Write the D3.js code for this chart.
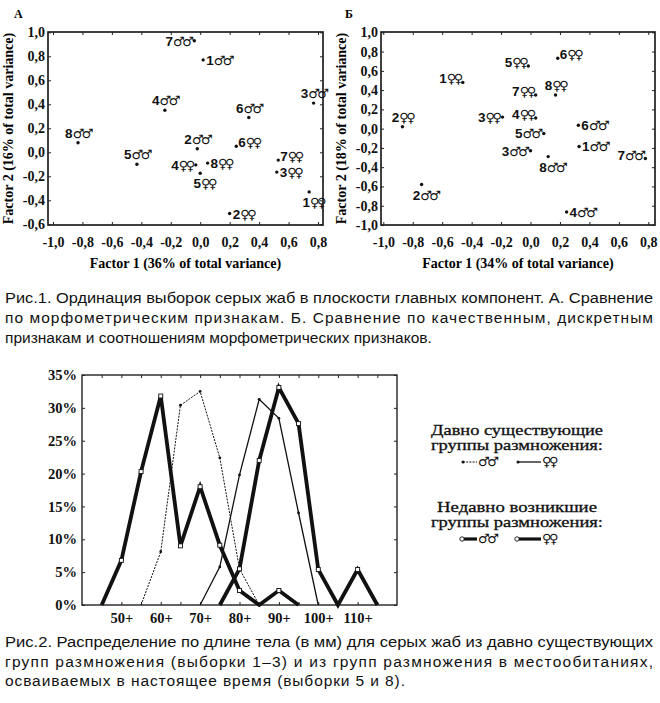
<!DOCTYPE html>
<html>
<head>
<meta charset="utf-8">
<script src="https://cdn.jsdelivr.net/npm/d3@7"></script>
<style>
  body { margin: 0; background: #fff; }
  svg { display: block; }
</style>
</head>
<body>
<svg id="fig" width="660" height="703"></svg>
<script>
// ---- data: PCA panel A (morphometric) ----
const namesA = ["7♂♂", "1♂♂", "4♂♂", "6♂♂", "3♂♂", "8♂♂", "5♂♂", "2♂♂",
                "6♀♀", "4♀♀", "8♀♀", "5♀♀", "7♀♀", "3♀♀", "1♀♀", "2♀♀"];
const f1A = [-0.04, 0.02, -0.24, 0.33, 0.77, -0.83, -0.43, -0.02,
             0.245, -0.03, 0.05, 0.0, 0.53, 0.52, 0.74, 0.20];
const f2A = [0.93, 0.77, 0.35, 0.29, 0.41, 0.08, -0.10, 0.03,
             0.05, -0.105, -0.09, -0.175, -0.065, -0.165, -0.33, -0.51];
const placeA = ["l", "r", "t", "t", "t", "t", "t", "t",
                "tr", "l", "r", "b", "tr", "r", "b", "r"];

// ---- data: PCA panel B (qualitative traits) ----
const namesB = ["2♀♀", "1♀♀", "5♀♀", "6♀♀", "7♀♀", "8♀♀", "3♀♀", "4♀♀",
                "5♂♂", "6♂♂", "1♂♂", "3♂♂", "8♂♂", "7♂♂", "2♂♂", "4♂♂"];
const f1B = [-0.87, -0.46, -0.015, 0.185, 0.035, 0.17, -0.19, 0.035,
             0.09, 0.325, 0.33, 0.0, 0.12, 0.78, -0.74, 0.245];
const f2B = [0.02, 0.48, 0.65, 0.73, 0.35, 0.35, 0.12, 0.11,
             -0.05, 0.035, -0.185, -0.23, -0.29, -0.31, -0.58, -0.865];
const placeB = ["t", "tl", "tl", "tr", "tl", "t", "l", "tl",
                "l", "r", "r", "l", "b", "tl", "b", "r"];

const pcaXTicks = [-1.0, -0.8, -0.6, -0.4, -0.2, 0.0, 0.2, 0.4, 0.6, 0.8];
const pcaYTicksA = [-0.6, -0.4, -0.2, 0.0, 0.2, 0.4, 0.6, 0.8, 1.0];
const pcaYTicksB = [-1.0, -0.8, -0.6, -0.4, -0.2, 0.0, 0.2, 0.4, 0.6, 0.8, 1.0];

// ---- data: body length distribution (%), fig. 2 ----
const binsOldMales = [55, 60, 65, 70, 75, 80, 85];
const pctOldMales = [0, 8.1, 30.4, 32.5, 22.4, 5.5, 0];
const binsOldFemales = [70, 75, 80, 85, 90, 95, 100];
const pctOldFemales = [0, 5.8, 19.8, 31.3, 28.4, 14, 0];
const binsNewMales = [45, 50, 55, 60, 65, 70, 75, 80, 85, 90, 95];
const pctNewMales = [0, 6.8, 20.3, 31.8, 9, 18, 9.1, 2.2, 0, 2.2, 0];
const binsNewFemales = [75, 80, 85, 90, 95, 100, 105, 110, 115];
const pctNewFemales = [0, 5.5, 22, 33.1, 27.6, 5.4, 0, 5.4, 0];
const lenTicks = [50, 60, 70, 80, 90, 100, 110];
const pctTicks = [0, 5, 10, 15, 20, 25, 30, 35];

const caption1 = [
  "Рис.1. Ординация выборок серых жаб в плоскости главных компонент.  А. Сравнение",
  "по морфометрическим признакам. Б. Сравнение по качественным, дискретным",
  "признакам и соотношениям морфометрических признаков."
];
const caption2 = [
  "Рис.2. Распределение по длине тела (в мм) для серых жаб из давно существующих",
  "групп размножения (выборки 1–3) и из групп размножения в местообитаниях,",
  "осваиваемых в настоящее время  (выборки 5 и 8)."
];

const svg = d3.select("#fig");
svg.append("rect").attr("width", 660).attr("height", 703).attr("fill", "#fff");

const serif = "'Liberation Serif', 'DejaVu Serif', serif";
const sans = "'Liberation Sans', Arial, sans-serif";
const comma = d => d.toFixed(1).replace(".", ",");

// draws one PCA panel
function drawPca(opt) {
  const g = svg.append("g");
  const x = d3.scaleLinear().domain([-1.0, 0.8]).range(opt.xRange);
  const y = d3.scaleLinear().domain(opt.yDomain).range(opt.yRange);

  // box
  g.append("rect")
    .attr("x", opt.box[0]).attr("y", opt.box[1])
    .attr("width", opt.box[2] - opt.box[0]).attr("height", opt.box[3] - opt.box[1])
    .attr("fill", "none").attr("stroke", "#111").attr("stroke-width", 1.6);

  const xAxis = g.append("g").attr("transform", `translate(0,${opt.box[3]})`)
    .call(d3.axisBottom(x).tickValues(opt.xTicks).tickFormat(comma).tickSize(-3).tickPadding(12));
  const xTop = g.append("g").attr("transform", `translate(0,${opt.box[1]})`)
    .call(d3.axisTop(x).tickValues(opt.xTicks).tickFormat("").tickSize(-3));
  const yAxis = g.append("g").attr("transform", `translate(${opt.box[0]},0)`)
    .call(d3.axisLeft(y).tickValues(opt.yTicks).tickFormat(comma).tickSize(-3).tickPadding(3));
  const yRight = g.append("g").attr("transform", `translate(${opt.box[2]},0)`)
    .call(d3.axisRight(y).tickValues(opt.yTicks).tickFormat("").tickSize(-3));
  [xAxis, xTop, yAxis, yRight].forEach(a => {
    a.select(".domain").remove();
    a.selectAll("line").attr("stroke", "#222");
    a.selectAll("text").attr("font-family", serif).attr("font-weight", "bold")
      .attr("font-size", 14).attr("fill", "#111");
  });

  // titles
  g.append("text").attr("x", (opt.box[0] + opt.box[2]) / 2).attr("y", 268)
    .attr("text-anchor", "middle").attr("font-family", serif).attr("font-weight", "bold")
    .attr("font-size", 14).text(opt.xTitle);
  g.append("text")
    .attr("transform", `translate(${opt.box[0] - 35},${(opt.box[1] + opt.box[3]) / 2}) rotate(-90)`)
    .attr("text-anchor", "middle").attr("font-family", serif).attr("font-weight", "bold")
    .attr("font-size", 14).text(opt.yTitle);
  g.append("text").attr("x", opt.letterX).attr("y", 18)
    .attr("font-family", serif).attr("font-weight", "bold").attr("font-size", 12).text(opt.letter);

  // points
  opt.names.forEach((name, i) => {
    const px = x(opt.f1[i]), py = y(opt.f2[i]);
    g.append("circle").attr("cx", px).attr("cy", py).attr("r", 1.7).attr("fill", "#111");
    let tx = px, ty = py, anchor = "middle";
    switch (opt.place[i]) {
      case "l": tx = px - 3; ty = py + 5; anchor = "end"; break;
      case "r": tx = px + 3; ty = py + 5; anchor = "start"; break;
      case "t": tx = px; ty = py - 5; anchor = "middle"; break;
      case "b": tx = px + 4; ty = py + 15; anchor = "middle"; break;
      case "tl": tx = px - 2; ty = py + 1; anchor = "end"; break;
      case "tr": tx = px + 2; ty = py + 1; anchor = "start"; break;
    }
    const t = g.append("text").attr("x", tx).attr("y", ty).attr("text-anchor", anchor)
      .attr("font-family", sans).attr("font-weight", "bold").attr("font-size", 13.5).attr("fill", "#111");
    t.append("tspan").text(name.slice(0, 1));
    t.append("tspan").attr("font-family", "'DejaVu Sans', sans-serif").attr("font-size", 13)
      .attr("letter-spacing", -2.5).text(name.slice(1));
  });
}

drawPca({
  names: namesA, f1: f1A, f2: f2A, place: placeA,
  xRange: [53, 318], yDomain: [-0.6, 1.0], yRange: [224.3, 32.3],
  box: [48, 32, 323, 225], xTicks: pcaXTicks, yTicks: pcaYTicksA,
  xTitle: "Factor 1 (36% of total variance)", yTitle: "Factor 2 (16% of total variance)",
  letter: "А", letterX: 14
});
drawPca({
  names: namesB, f1: f1B, f2: f2B, place: placeB,
  xRange: [383.3, 648.3], yDomain: [-1.0, 1.0], yRange: [225, 32.3],
  box: [381, 32, 655, 225], xTicks: pcaXTicks, yTicks: pcaYTicksB,
  xTitle: "Factor 1 (34% of total variance)", yTitle: "Factor 2 (18% of total variance)",
  letter: "Б", letterX: 345
});

// captions
function drawCaption(lines, y0, step, widths) {
  lines.forEach((line, i) => {
    const t = svg.append("text").attr("x", 5).attr("y", y0 + i * step)
      .attr("font-family", sans).attr("font-size", 15.5).attr("fill", "#111").text(line);
    if (widths[i]) t.attr("textLength", widths[i][0]).attr("lengthAdjust", widths[i][1]);
  });
}
drawCaption(caption1, 303, 20, [[648, "spacingAndGlyphs"], [648, "spacing"], null]);
drawCaption(caption2, 647, 19.5, [[648, "spacingAndGlyphs"], [648, "spacing"], [400, "spacing"]]);

// ---- fig. 2 line chart ----
const lx = d3.scaleLinear().domain([40, 120]).range([82, 397]);
const ly = d3.scaleLinear().domain([0, 35]).range([605, 375]);
const lg = svg.append("g");

lg.append("rect").attr("x", 82).attr("y", 375).attr("width", 315).attr("height", 230)
  .attr("fill", "none").attr("stroke", "#111").attr("stroke-width", 1.3);

const stepTicks = d3.range(45, 120, 5);
const axB = lg.append("g").attr("transform", "translate(0,605)")
  .call(d3.axisBottom(lx).tickValues(lenTicks).tickFormat(d => d + "+").tickSize(0).tickPadding(8));
const axBt = lg.append("g").attr("transform", "translate(0,605)")
  .call(d3.axisBottom(lx).tickValues(stepTicks).tickFormat("").tickSize(-3));
const axT = lg.append("g").attr("transform", "translate(0,375)")
  .call(d3.axisTop(lx).tickValues(stepTicks).tickFormat("").tickSize(-3));
const axL = lg.append("g").attr("transform", "translate(82,0)")
  .call(d3.axisLeft(ly).tickValues(pctTicks).tickFormat(d => d + "%").tickSize(-3).tickPadding(5));
const axR = lg.append("g").attr("transform", "translate(397,0)")
  .call(d3.axisRight(ly).tickValues(pctTicks).tickFormat("").tickSize(-3));
[axB, axBt, axT, axL, axR].forEach(a => {
  a.select(".domain").remove();
  a.selectAll("line").attr("stroke", "#222");
  a.selectAll("text").attr("font-family", serif).attr("font-weight", "bold")
    .attr("font-size", 14.5).attr("fill", "#111");
});

const line = d3.line().x(d => lx(d[0])).y(d => ly(d[1]));
const series = [
  { bins: binsOldMales, pct: pctOldMales, w: 1, dash: "2,1.2", mark: "dot" },
  { bins: binsOldFemales, pct: pctOldFemales, w: 1.3, dash: null, mark: "dot" },
  { bins: binsNewMales, pct: pctNewMales, w: 3.8, dash: null, mark: "square" },
  { bins: binsNewFemales, pct: pctNewFemales, w: 3.8, dash: null, mark: "square" }
];
series.forEach(s => {
  const pts = s.bins.map((b, i) => [b, s.pct[i]]);
  lg.append("path").datum(pts).attr("d", line).attr("fill", "none")
    .attr("stroke", "#111").attr("stroke-width", s.w)
    .attr("stroke-dasharray", s.dash).attr("stroke-linejoin", "miter");
  const marks = pts.filter(p => p[1] > 0);
  if (s.mark === "dot") {
    lg.selectAll(null).data(marks).enter().append("circle")
      .attr("cx", d => lx(d[0])).attr("cy", d => ly(d[1])).attr("r", 1.4).attr("fill", "#111");
  } else {
    lg.selectAll(null).data(marks).enter().append("rect")
      .attr("x", d => lx(d[0]) - 2).attr("y", d => ly(d[1]) - 2)
      .attr("width", 4).attr("height", 4).attr("fill", "#fff")
      .attr("stroke", "#111").attr("stroke-width", 0.9);
  }
});

// legend
const leg = svg.append("g").attr("font-family", serif).attr("font-size", 15)
  .attr("fill", "#111").attr("text-anchor", "middle").attr("stroke", "#111").attr("stroke-width", 0.3);
const legendBlocks = [
  { y: 435, title: ["Давно существующие", "группы размножения:"] },
  { y: 512, title: ["Недавно возникшие", "группы размножения:"] }
];
legendBlocks.forEach((b, k) => {
  b.title.forEach((t, i) => leg.append("text").attr("x", 517).attr("y", b.y + i * 15)
    .attr("textLength", k === 1 && i === 0 ? 160 : 172).attr("lengthAdjust", "spacingAndGlyphs").text(t));
  const sy = b.y + 27;
  const segs = [[463, 477], [518, 541]];
  segs.forEach((sg, j) => {
    const old = k === 0;
    leg.append("line").attr("x1", sg[0]).attr("x2", sg[1]).attr("y1", sy).attr("y2", sy)
      .attr("stroke", "#111").attr("stroke-width", old ? (j === 0 ? 1 : 1.3) : 3.2)
      .attr("stroke-dasharray", old && j === 0 ? "2,1.2" : null);
    if (old) {
      leg.append("circle").attr("cx", sg[0]).attr("cy", sy).attr("r", 1.5).attr("stroke", "none");
    } else {
      leg.append("circle").attr("cx", sg[0] - 1).attr("cy", sy).attr("r", 2.2)
        .attr("fill", "#fff").attr("stroke", "#111").attr("stroke-width", 0.9);
    }
    leg.append("text").attr("x", sg[1] + 1).attr("y", sy + 4).attr("text-anchor", "start")
      .attr("font-family", "'DejaVu Sans', sans-serif").attr("font-size", 13)
      .attr("font-weight", "bold").attr("stroke", "none").attr("letter-spacing", -2.5)
      .text(j === 0 ? "♂♂" : "♀♀");
  });
});
</script>
</body>
</html>
